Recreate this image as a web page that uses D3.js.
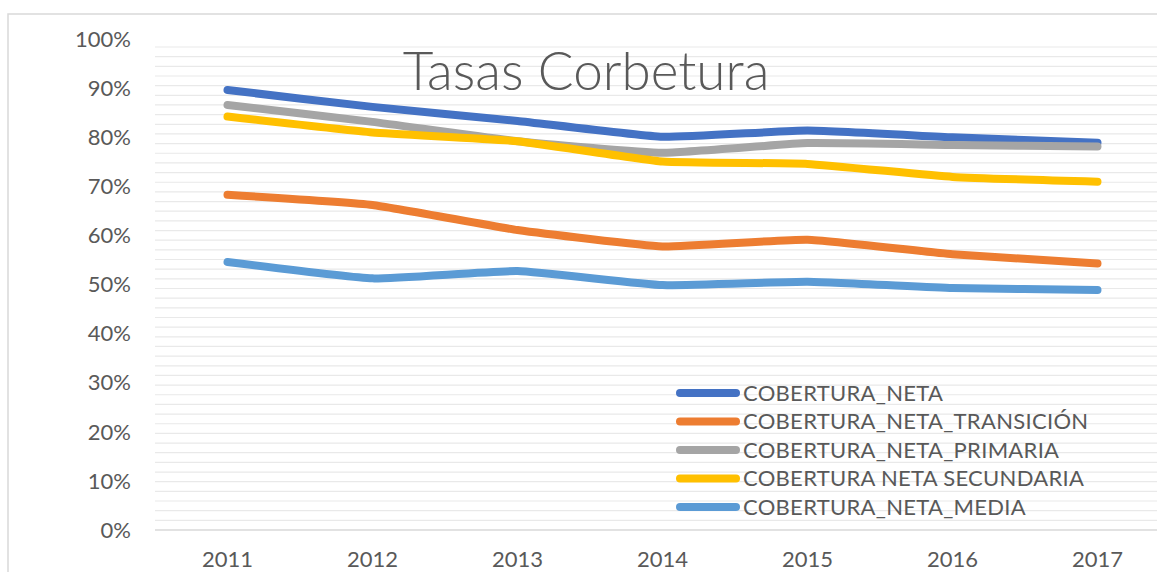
<!DOCTYPE html>
<html>
<head>
<meta charset="utf-8">
<script src="https://cdn.jsdelivr.net/npm/d3@7"></script>
<style>
  body { margin: 0; background: #fff; }
  text { font-family: Lato, "Open Sans", sans-serif; fill: #595959; }
</style>
</head>
<body>
<div id="tasas"></div>
<script>
const years = ["2011", "2012", "2013", "2014", "2015", "2016", "2017"];
const seriesNames = ["COBERTURA_NETA", "COBERTURA_NETA_TRANSICIÓN", "COBERTURA_NETA_PRIMARIA", "COBERTURA NETA SECUNDARIA", "COBERTURA_NETA_MEDIA"];
const neta = [91.1, 87.6, 84.7, 81.4, 82.7, 81.3, 80.2];
const transicion = [69.4, 67.3, 62.1, 58.7, 60.1, 57.1, 55.2];
const primaria = [88.0, 84.5, 80.5, 78.1, 80.1, 79.7, 79.4];
const secundaria = [85.6, 82.3, 80.5, 76.3, 75.8, 73.1, 72.1];
const media = [55.5, 52.1, 53.6, 50.7, 51.4, 50.1, 49.7];
const yTicks = [0, 10, 20, 30, 40, 50, 60, 70, 80, 90, 100];
const title = "Tasas Corbetura";

(function tasas_corbetura() {
  const width = 1157,
    height = 572,
    margin = { top: 47, right: -13, bottom: 42, left: 155 };

  const svg = d3.select("#tasas")
    .append("svg")
    .attr("width", width)
    .attr("height", height)
    .attr("viewBox", [0, 0, width, height]);

  // chart frame, only top and left edges show in the crop
  svg.append("rect")
    .attr("x", 8)
    .attr("y", 14)
    .attr("width", width + 20)
    .attr("height", height + 20)
    .attr("fill", "none")
    .attr("stroke", "#d9d9d9")
    .attr("stroke-width", 1.5);

  const x = d3.scalePoint(years, [margin.left, width - margin.right]).padding(0.5);
  const y = d3.scaleLinear([0, 100], [height - margin.bottom, margin.top]);

  // minor gridlines every 2%
  svg.append("g")
    .selectAll("line")
    .data(d3.range(2, 101, 2))
    .join("line")
    .attr("x1", margin.left)
    .attr("x2", width - margin.right)
    .attr("y1", d => y(d))
    .attr("y2", d => y(d))
    .attr("stroke", "#e9e9e9")
    .attr("stroke-width", 1.2);

  svg.append("line")
    .attr("x1", margin.left)
    .attr("x2", width - margin.right)
    .attr("y1", y(0))
    .attr("y2", y(0))
    .attr("stroke", "#d9d9d9")
    .attr("stroke-width", 1.5);

  svg.append("g")
    .selectAll("text")
    .data(yTicks)
    .join("text")
    .attr("x", 131)
    .attr("y", d => y(d) - (d / 100) * 8)
    .attr("dy", "0.35em")
    .attr("text-anchor", "end")
    .attr("font-size", 22)
    .text(d => d + "%");

  svg.append("g")
    .selectAll("text")
    .data(years)
    .join("text")
    .attr("x", d => x(d))
    .attr("y", 567)
    .attr("text-anchor", "middle")
    .attr("font-size", 22)
    .text(d => d);

  svg.append("text")
    .attr("x", 586)
    .attr("y", 90)
    .attr("text-anchor", "middle")
    .attr("font-size", 53)
    .attr("font-weight", 300)
    .text(title);

  const color = d3.scaleOrdinal(seriesNames, ["#4472C4", "#ED7D31", "#A5A5A5", "#FFC000", "#5B9BD5"]);
  const values = [neta, transicion, primaria, secundaria, media];

  const line = d3.line()
    .x((d, i) => x(years[i]))
    .y(d => y(d))
    .curve(d3.curveCardinal.tension(0.6));

  svg.append("g")
    .selectAll("path")
    .data(values)
    .join("path")
    .attr("d", line)
    .attr("fill", "none")
    .attr("stroke", (d, i) => color(seriesNames[i]))
    .attr("stroke-width", 8)
    .attr("stroke-linecap", "round")
    .attr("stroke-linejoin", "round");

  let legendGroup = svg.append("g")
    .selectAll(".legend-group")
    .data(seriesNames)
    .join("g")
    .attr("class", "legend-group")
    .attr("transform", (d, i) => `translate(0,${393 + i * 28.5})`);

  legendGroup.append("line")
    .attr("x1", 680)
    .attr("x2", 736)
    .attr("stroke", d => color(d))
    .attr("stroke-width", 8)
    .attr("stroke-linecap", "round");

  legendGroup.append("text")
    .attr("x", 743)
    .attr("dy", "0.36em")
    .attr("font-size", 22)
    .attr("letter-spacing", 0.3)
    .text(d => d);
})();
</script>
</body>
</html>
